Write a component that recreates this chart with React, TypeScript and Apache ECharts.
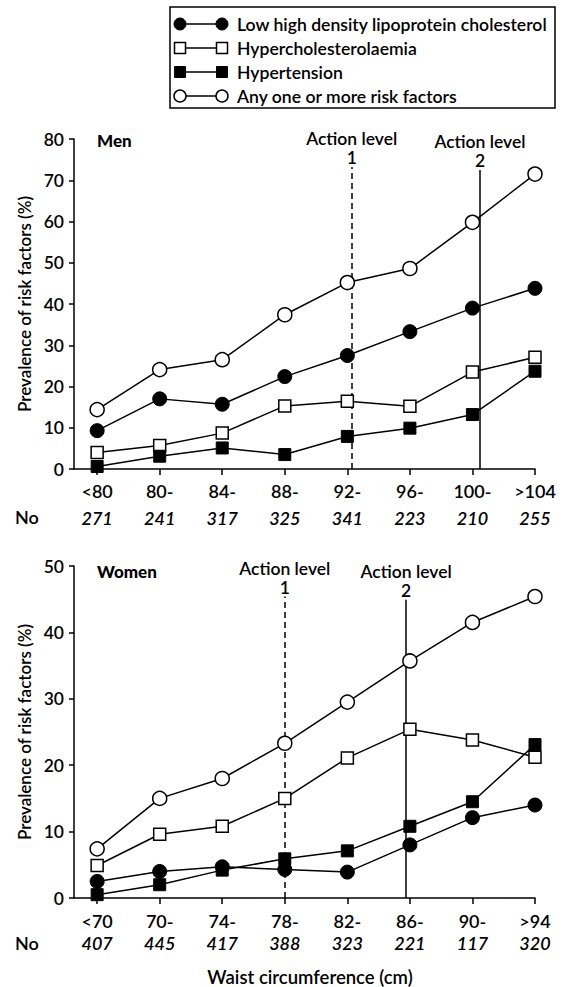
import React, { useEffect, useRef } from "react";
import * as echarts from "echarts";

const seriesNames = [
  "Low high density lipoprotein cholesterol",
  "Hypercholesterolaemia",
  "Hypertension",
  "Any one or more risk factors",
];
const seriesMarkers = ["circle", "rect", "rect", "circle"];
const seriesFilled = [true, false, true, false];

const menCategories = ["<80", "80-", "84-", "88-", "92-", "96-", "100-", ">104"];
const menCounts = ["271", "241", "317", "325", "341", "223", "210", "255"];
const menLowHDL = [9.3, 17.0, 15.7, 22.4, 27.5, 33.3, 39.0, 43.8];
const menHyperchol = [4.0, 5.7, 8.7, 15.3, 16.4, 15.2, 23.5, 27.1];
const menHypertension = [0.6, 3.1, 5.1, 3.5, 7.9, 9.9, 13.2, 23.7];
const menAny = [14.4, 24.1, 26.5, 37.4, 45.2, 48.6, 59.8, 71.5];
const menActionLevels = [4.07, 6.12];
const menActionTops = [73.2, 72.5];

const womenCategories = ["<70", "70-", "74-", "78-", "82-", "86-", "90-", ">94"];
const womenCounts = ["407", "445", "417", "388", "323", "221", "117", "320"];
const womenLowHDL = [2.5, 4.0, 4.7, 4.3, 3.9, 8.0, 12.1, 14.0];
const womenHyperchol = [4.9, 9.6, 10.8, 15.0, 21.1, 25.4, 23.8, 21.2];
const womenHypertension = [0.5, 2.0, 4.2, 5.9, 7.1, 10.8, 14.5, 23.1];
const womenAny = [7.4, 15.0, 18.0, 23.3, 29.5, 35.7, 41.5, 45.4];
const womenActionLevels = [3.0, 4.94];
const womenActionTops = [45.4, 44.9];

const yTicksMen = { min: 0, max: 80, interval: 10 };
const yTicksWomen = { min: 0, max: 50, interval: 10 };
const actionLabels = ["1", "2"];

const FONT = "Lato";
const WEIGHT = 600;
const BLACK = "#000";

function xAxisFor(gridIndex: number, cats: string[], counts: string[], margin: number, lh: number) {
  const idx = cats.map((_, i) => i);
  return {
    type: "value",
    gridIndex,
    min: -0.37,
    max: cats.length - 1,
    axisLine: { show: true, onZero: false, lineStyle: { color: BLACK, width: 1.5 } },
    axisTick: { show: true, customValues: idx, length: 6, lineStyle: { color: BLACK, width: 1.5 } },
    splitLine: { show: false },
    axisLabel: {
      customValues: idx,
      margin,
      formatter: (v: number) => {
        const i = Math.round(v);
        return `{c|${cats[i]}}\n{n|${counts[i]}}`;
      },
      rich: {
        c: { fontFamily: FONT, fontSize: 18, fontWeight: WEIGHT, color: BLACK, lineHeight: lh },
        n: { fontFamily: FONT, fontSize: 18, fontWeight: WEIGHT, fontStyle: "italic", color: BLACK, lineHeight: lh },
      },
    },
  };
}

function yAxisFor(gridIndex: number, t: { min: number; max: number; interval: number }) {
  return {
    type: "value",
    gridIndex,
    min: t.min,
    max: t.max,
    interval: t.interval,
    name: "Prevalence of risk factors (%)",
    nameLocation: "middle",
    nameGap: 31,
    nameTextStyle: { fontFamily: FONT, fontSize: 17, fontWeight: WEIGHT, color: BLACK },
    axisLine: { show: true, onZero: false, lineStyle: { color: BLACK, width: 1.5 } },
    axisTick: { show: true, length: 5, lineStyle: { color: BLACK, width: 1.5 } },
    splitLine: { show: false },
    axisLabel: { fontFamily: FONT, fontSize: 17.5, fontWeight: WEIGHT, color: BLACK, margin: 10 },
  };
}

function seriesFor(gridIndex: number, data: number[][], levels: number[], tops: number[]) {
  return data.map((vals, s) => {
    const filled = seriesFilled[s];
    const ser: any = {
      type: "line",
      name: seriesNames[s],
      xAxisIndex: gridIndex,
      yAxisIndex: gridIndex,
      data: vals.map((v, i) => [i, v]),
      symbol: seriesMarkers[s],
      symbolSize: seriesMarkers[s] === "circle" ? 14 : 12,
      lineStyle: { color: BLACK, width: 1.5 },
      itemStyle: filled
        ? { color: BLACK, borderColor: BLACK, borderWidth: 1 }
        : { color: "#fff", borderColor: BLACK, borderWidth: 1.5 },
      emphasis: { disabled: true },
      silent: true,
      z: 3 + s,
    };
    if (s === 0) {
      ser.markLine = {
        silent: true,
        symbol: ["none", "none"],
        z: 2,
        data: levels.map((x, k) => {
          const style = {
            lineStyle: { color: BLACK, width: 1.5, type: k === 0 ? [6, 4] : "solid" },
            label: {
              show: true,
              position: "end",
              distance: 0,
              formatter: `Action level\n${actionLabels[k]}`,
              fontFamily: FONT,
              fontSize: 17.5,
              fontWeight: WEIGHT,
              lineHeight: 19,
              color: BLACK,
              align: "center",
            },
          };
          return [
            { coord: [x, 0], ...style },
            { coord: [x, tops[k]], ...style },
          ];
        }),
      };
    }
    return ser;
  });
}

function legendGraphics() {
  const els: any[] = [
    {
      type: "rect",
      shape: { x: 170, y: 7, width: 385, height: 101 },
      style: { fill: "none", stroke: BLACK, lineWidth: 1.5 },
    },
  ];
  seriesNames.forEach((name, i) => {
    const y = 24 + i * 24;
    els.push({
      type: "line",
      shape: { x1: 180, y1: y, x2: 222, y2: y },
      style: { stroke: BLACK, lineWidth: 1.5 },
    });
    [180, 222].forEach((x) => {
      const style = seriesFilled[i]
        ? { fill: BLACK, stroke: BLACK, lineWidth: 1 }
        : { fill: "#fff", stroke: BLACK, lineWidth: 1.5 };
      if (seriesMarkers[i] === "circle") {
        els.push({ type: "circle", shape: { cx: x, cy: y, r: 6 }, style, z: 10 });
      } else {
        els.push({ type: "rect", shape: { x: x - 5.5, y: y - 5.5, width: 11, height: 11 }, style, z: 10 });
      }
    });
    els.push({
      type: "text",
      x: 237,
      y,
      style: {
        text: name,
        fontFamily: FONT,
        fontSize: 17.6,
        fontWeight: WEIGHT,
        fill: BLACK,
        verticalAlign: "middle",
        align: "left",
      },
    });
  });
  return els;
}

function textEl(text: string, x: number, y: number, opts: any = {}) {
  return {
    type: "text",
    x,
    y,
    style: {
      text,
      fontFamily: FONT,
      fontSize: 17,
      fontWeight: WEIGHT,
      fill: BLACK,
      verticalAlign: "middle",
      align: "left",
      ...opts,
    },
  };
}

export default function App() {
  const ref = useRef<HTMLDivElement>(null);
  useEffect(() => {
    document.body.style.margin = "0";
    if (!ref.current) return;
    const chart = echarts.init(ref.current, undefined, { renderer: "svg" });
    chart.setOption({
      animation: false,
      textStyle: { fontFamily: FONT },
      grid: [
        { left: 74, width: 461, top: 139, height: 330, outerBoundsMode: "none", containLabel: false },
        { left: 74, width: 461, top: 566, height: 332, outerBoundsMode: "none", containLabel: false },
      ],
      xAxis: [
        xAxisFor(0, menCategories, menCounts, 8, 27),
        xAxisFor(1, womenCategories, womenCounts, 12, 22),
      ],
      yAxis: [yAxisFor(0, yTicksMen), yAxisFor(1, yTicksWomen)],
      series: [
        ...seriesFor(0, [menLowHDL, menHyperchol, menHypertension, menAny], menActionLevels, menActionTops),
        ...seriesFor(1, [womenLowHDL, womenHyperchol, womenHypertension, womenAny], womenActionLevels, womenActionTops),
      ],
      graphic: [
        ...legendGraphics(),
        textEl("Men", 97, 140, { fontWeight: 900 }),
        textEl("Women", 97, 571, { fontWeight: 900 }),
        textEl("No", 15, 517, { fontSize: 18 }),
        textEl("No", 15, 943, { fontSize: 18 }),
        textEl("Waist circumference (cm)", 310, 977, { align: "center", fontSize: 18.5 }),
      ],
    });
    return () => chart.dispose();
  }, []);
  return <div ref={ref} style={{ width: 565, height: 987 }} />;
}
